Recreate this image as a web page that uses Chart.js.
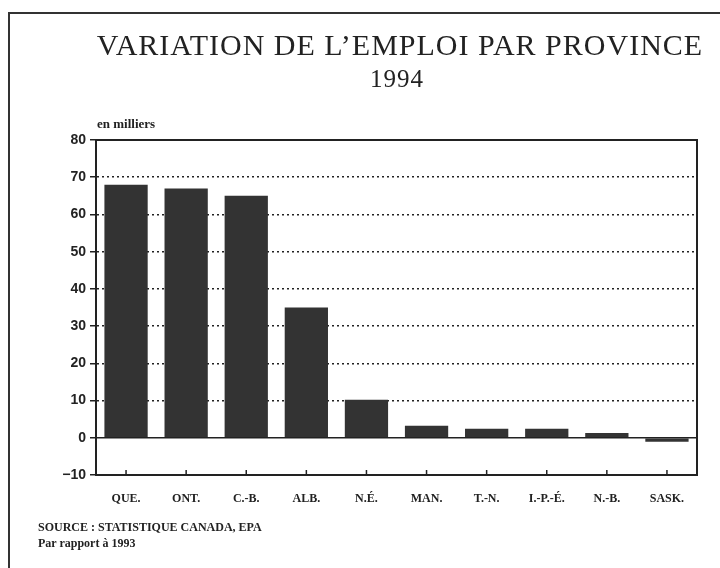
<!DOCTYPE html>
<html>
<head>
<meta charset="utf-8">
<script src="https://cdn.jsdelivr.net/npm/chart.js@4.4.0/dist/chart.umd.min.js"></script>
<style>
  body { margin: 0; background: #fff; }
  #wrap { position: relative; width: 720px; height: 568px; overflow: hidden; }
  #frame { position: absolute; left: 8px; top: 12px; width: 760px; height: 600px;
           border-left: 2px solid #333; border-top: 2px solid #333; }
  canvas { position: absolute; left: 0; top: 0; }
  .txt { position: absolute; color: #222; white-space: nowrap; }
  #title { left: 0; width: 800px; text-align: center; top: 28px;
           font: 30px "Liberation Serif", serif; letter-spacing: 1px; }
  #year { left: 0; width: 794px; text-align: center; top: 65px; font: 25px "Liberation Serif", serif; letter-spacing: 1px; }
  #unit { left: 97px; top: 116px; font: bold 13px "Liberation Serif", serif; }
  #src { left: 38px; top: 519px; font: bold 12px "Liberation Serif", serif; line-height: 16px; }
</style>
</head>
<body>
<div id="wrap">
  <div id="frame"></div>
  <canvas id="chart" width="720" height="568"></canvas>
  <div class="txt" id="title">VARIATION DE L’EMPLOI PAR PROVINCE</div>
  <div class="txt" id="year">1994</div>
  <div class="txt" id="unit">en milliers</div>
  <div class="txt" id="src">SOURCE : STATISTIQUE CANADA, EPA<br>Par rapport à 1993</div>
</div>
<script>
// DATA
const provinces = ["QUE.", "ONT.", "C.-B.", "ALB.", "N.É.", "MAN.", "T.-N.", "I.-P.-É.", "N.-B.", "SASK."];
const variation = [68, 67, 65, 35, 10.2, 3.2, 2.4, 2.4, 1.3, -1.1];
const yTicks = [80, 70, 60, 50, 40, 30, 20, 10, 0, -10];

const ink = "#222";

// frame, zero line and small ticks on the bottom axis
const extras = {
  id: "extras",
  afterDatasetsDraw(chart) {
    const c = chart.ctx, a = chart.chartArea;
    const x = chart.scales.x, y = chart.scales.y;
    c.save();
    c.strokeStyle = ink;
    c.lineWidth = 2;
    c.beginPath();
    c.moveTo(a.left, a.top); c.lineTo(a.right, a.top); c.lineTo(a.right, a.bottom);
    c.stroke();
    c.lineWidth = 1.5;
    const y0 = y.getPixelForValue(0);
    c.beginPath(); c.moveTo(a.left, y0); c.lineTo(a.right, y0); c.stroke();
    provinces.forEach((p, i) => {
      const px = x.getPixelForTick(i);
      c.beginPath(); c.moveTo(px, a.bottom); c.lineTo(px, a.bottom - 5); c.stroke();
    });
    c.restore();
  }
};

new Chart(document.getElementById("chart"), {
  type: "bar",
  data: {
    labels: provinces,
    datasets: [{
      data: variation,
      backgroundColor: "#333",
      borderWidth: 0,
      barPercentage: 0.72,
      categoryPercentage: 1
    }]
  },
  options: {
    responsive: false,
    animation: false,
    layout: { padding: { top: 140, right: 23, left: 0, bottom: 0 } },
    plugins: { legend: { display: false }, tooltip: { enabled: false } },
    scales: {
      x: {
        afterFit: (s) => { s.height = 93; },
        grid: { display: false },
        border: { color: ink, width: 2 },
        ticks: {
          color: ink, padding: 9, maxRotation: 0, autoSkip: false,
          font: { family: "Liberation Serif", size: 12, weight: "bold" }
        }
      },
      y: {
        min: -10, max: 80,
        afterFit: (s) => { s.width = 96; },
        afterBuildTicks: (s) => { s.ticks = yTicks.map(v => ({ value: v })); },
        border: { color: ink, width: 2, dash: [2, 3] },
        grid: {
          color: (ctx) => (ctx.tick && (ctx.tick.value === 0 || ctx.tick.value === -10 || ctx.tick.value === 80)) ? "rgba(0,0,0,0)" : ink,
          lineWidth: 1.5,
          tickColor: ink,
          tickLength: 6,
          tickWidth: 1.5,
          tickBorderDash: []
        },
        ticks: {
          color: ink, padding: 4,
          callback: (v) => v < 0 ? "−" + Math.abs(v) : String(v),
          font: { family: "Liberation Sans", size: 14, weight: "bold" }
        }
      }
    }
  },
  plugins: [extras]
});
</script>
</body>
</html>
